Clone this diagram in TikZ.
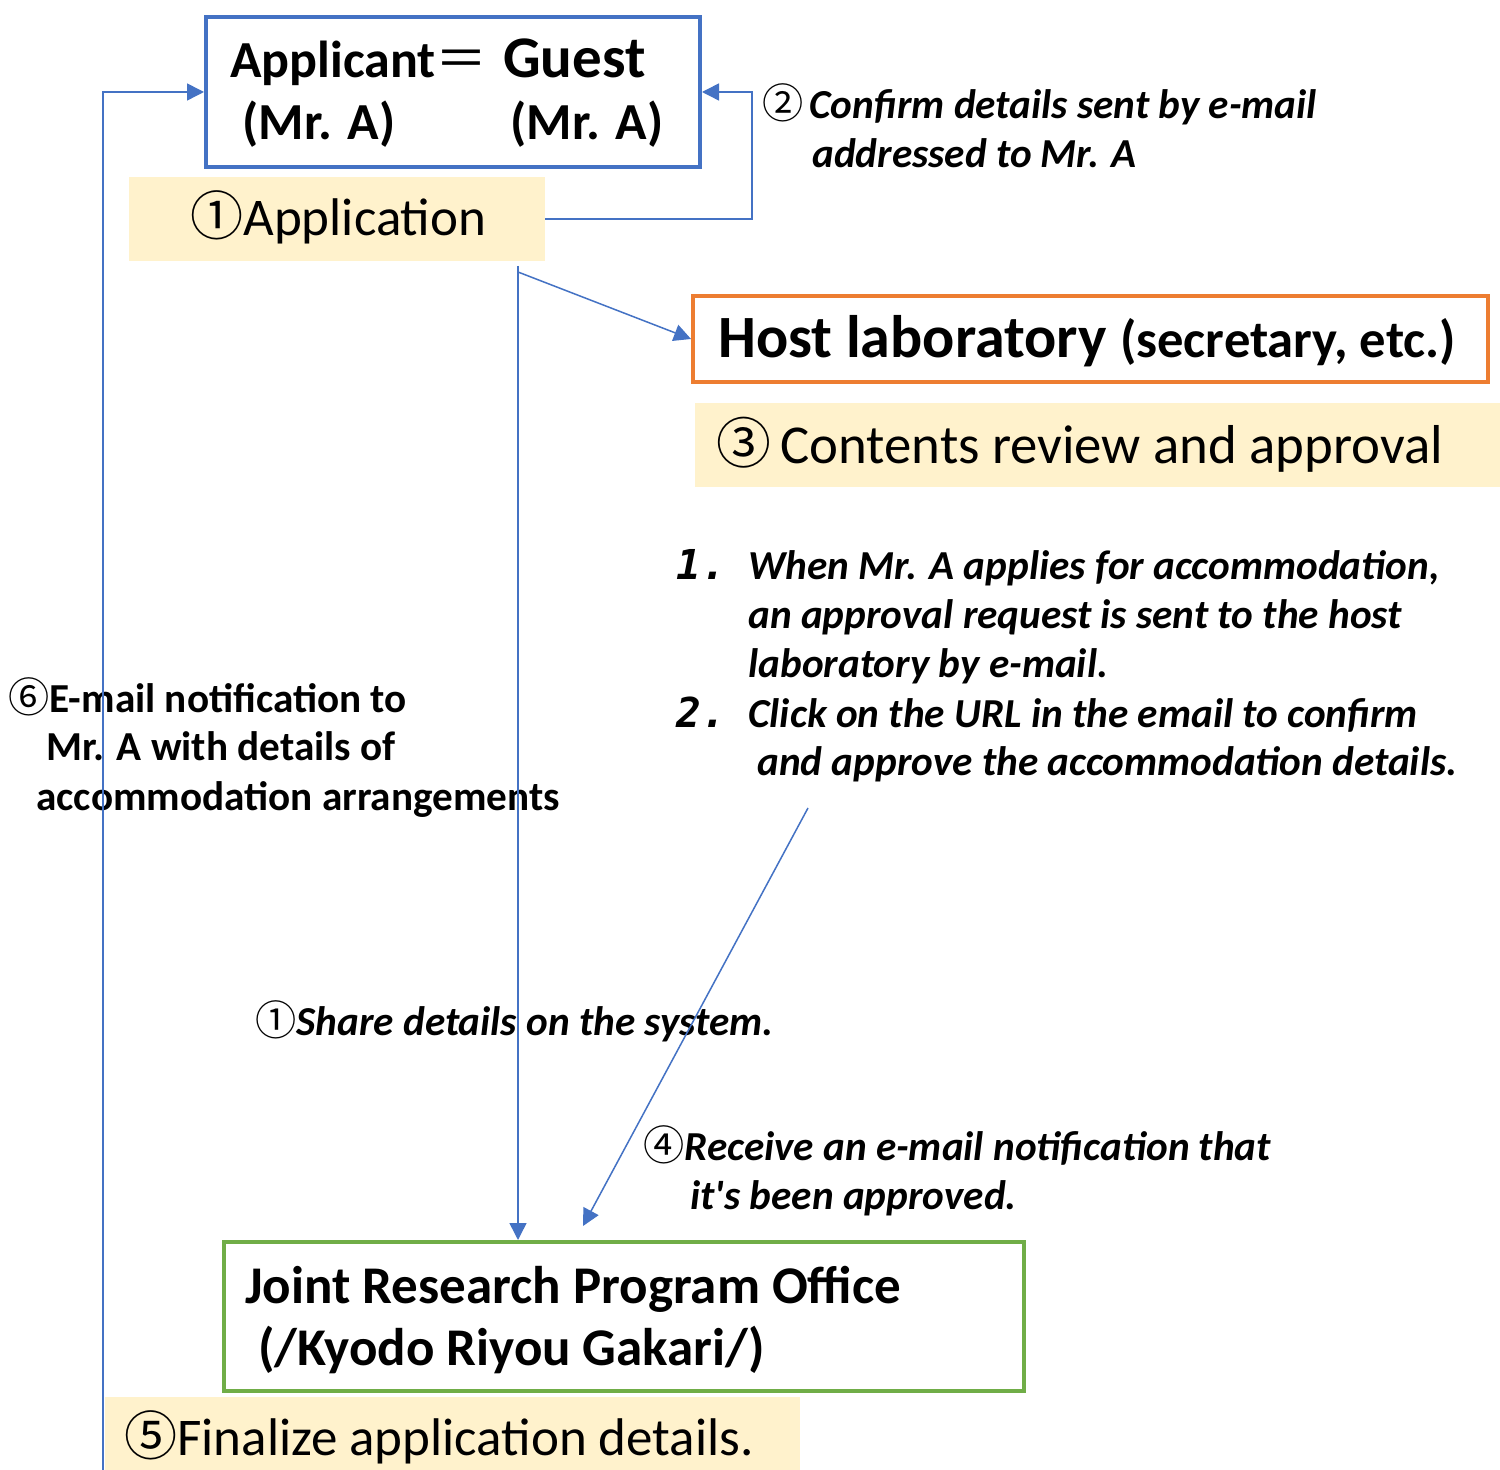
\documentclass[tikz,border=0pt]{standalone}
\usepackage{fontspec}
\setmainfont{Carlito}
\newfontfamily\cjk{Noto Sans CJK JP}
\newfontfamily\monoi{DejaVu Sans Mono}
\usetikzlibrary{arrows.meta}
\definecolor{myblue}{HTML}{4472C4}
\definecolor{myorange}{HTML}{ED7D31}
\definecolor{mygreen}{HTML}{70AD47}
\definecolor{myyellow}{HTML}{FFF2CC}
\begin{document}
\begin{tikzpicture}[x=0.5pt,y=-0.5pt,
  txt/.style={anchor=base west, inner sep=0pt},
  frame/.style={draw=#1, line width=2pt, inner sep=0pt, fill=white},
  band/.style={fill=myyellow, inner sep=0pt},
  conn/.style={draw=myblue, line width=0.75pt, -{Triangle[length=8.5pt,width=8.5pt]}},
  big/.style={font=\fontsize{26}{31}\selectfont\bfseries},
  note/.style={font=\fontsize{20.6}{25}\selectfont\bfseries\itshape},
  notebf/.style={font=\fontsize{20.6}{25}\selectfont\bfseries},
  norm/.style={font=\fontsize{27.4}{32}\selectfont},
  boxbf/.style={font=\fontsize{26.5}{32}\selectfont\bfseries},
  num/.style={font=\fontsize{20.6}{25}\selectfont\monoi\bfseries\itshape}]
\useasboundingbox (0,0) rectangle (1500,1470);
\fill[white] (0,0) rectangle (1500,1470);

% boxes
\node[frame=myblue, minimum width=247pt, minimum height=75pt] (guest) at (453,92) {};
\node[band, minimum width=208pt, minimum height=42pt] (app) at (337,219) {};
\node[frame=myorange, minimum width=397.5pt, minimum height=43pt] (host) at (1090.5,339) {};
\node[band, minimum width=402.5pt, minimum height=42pt] (review) at (1097.5,445) {};
\node[frame=mygreen, minimum width=400pt, minimum height=74.5pt] (office) at (624,1316.5) {};
\node[band, minimum width=347.5pt, minimum height=36.5pt] (final) at (452.5,1433.5) {};

% box texts
\node[txt, big] (t1) at (230,78) {Applicant{\cjk\mdseries ＝}};
\node[txt, font=\fontsize{29.5}{34}\selectfont\bfseries] (t1g) at (503,78) {Guest};
\node[txt, big] (t2) at (242,140) {(Mr. A)};
\node[txt, big] (t3) at (510,140) {(Mr. A)};
\node[txt, font=\fontsize{26.5}{32}\selectfont] (t4) at (190,236) {{\cjk①}Application};
\node[txt] (t5) at (718,358) {\fontsize{30}{36}\selectfont\bfseries Host laboratory \fontsize{26.3}{31}\selectfont(secretary, etc.)};
\node[txt, norm] (t6) at (716,464) {{\cjk③}\,Contents review and approval};
\node[txt, boxbf] (t7) at (245,1303) {Joint Research Program Office};
\node[txt, boxbf] (t8) at (258,1365) {(/Kyodo Riyou Gakari/)};
\node[txt, font=\fontsize{26.5}{32}\selectfont] (t9) at (124,1455) {{\cjk⑤}Finalize application details.};

% notes
\node[txt, note] (n2a) at (762,119) {{\cjk\mdseries\upshape②}\hspace{3pt}Confirm details sent by e-mail};
\node[txt, note] (n2b) at (812,168) {addressed to Mr. A};
\node[txt, num] (l1) at (676,580) {1.};
\node[txt, note] (l1a) at (748,580) {When Mr. A applies for accommodation,};
\node[txt, note] (l1b) at (748,629) {an approval request is sent to the host};
\node[txt, note] (l1c) at (748,678) {laboratory by e-mail.};
\node[txt, num] (l2) at (676,727) {2.};
\node[txt, note] (l2a) at (748,727) {Click on the URL in the email to confirm};
\node[txt, note] (l2b) at (757,776) {and approve the accommodation details.};
\node[txt, note] (n1) at (255,1035) {{\cjk\mdseries\upshape①}Share details on the system.};
\node[txt, note] (n4a) at (643,1160) {{\cjk\mdseries\upshape④}Receive an e-mail notification that};
\node[txt, note] (n4b) at (690,1209) {it{\addfontfeatures{Ligatures=TeXOff}'}s been approved.};
\node[txt, notebf] (n6a) at (8,712) {{\cjk\mdseries ⑥}E-mail notification to};
\node[txt, notebf] (n6b) at (46,761) {Mr. A with details of};
\node[txt, notebf] (n6c) at (36,811) {accommodation arrangements};

% connectors
\coordinate (top) at (518,266);
\coordinate (split) at (518,272);
\coordinate (c6) at (103,1470);
\coordinate (c2) at (752,92);
\coordinate (c4s) at (808,808);
\coordinate (c4e) at (583,1226);
\draw[conn] (app.east) -- (app.east -| c2) -- (c2) -- (guest.east);
\draw[conn] (c6) -- (c6 |- guest.west) -- (guest.west);
\draw[conn] (top) -- (top |- office.north);
\draw[conn] (split) -- (host.west);
\draw[conn] (c4s) -- (c4e);
\end{tikzpicture}
\end{document}
